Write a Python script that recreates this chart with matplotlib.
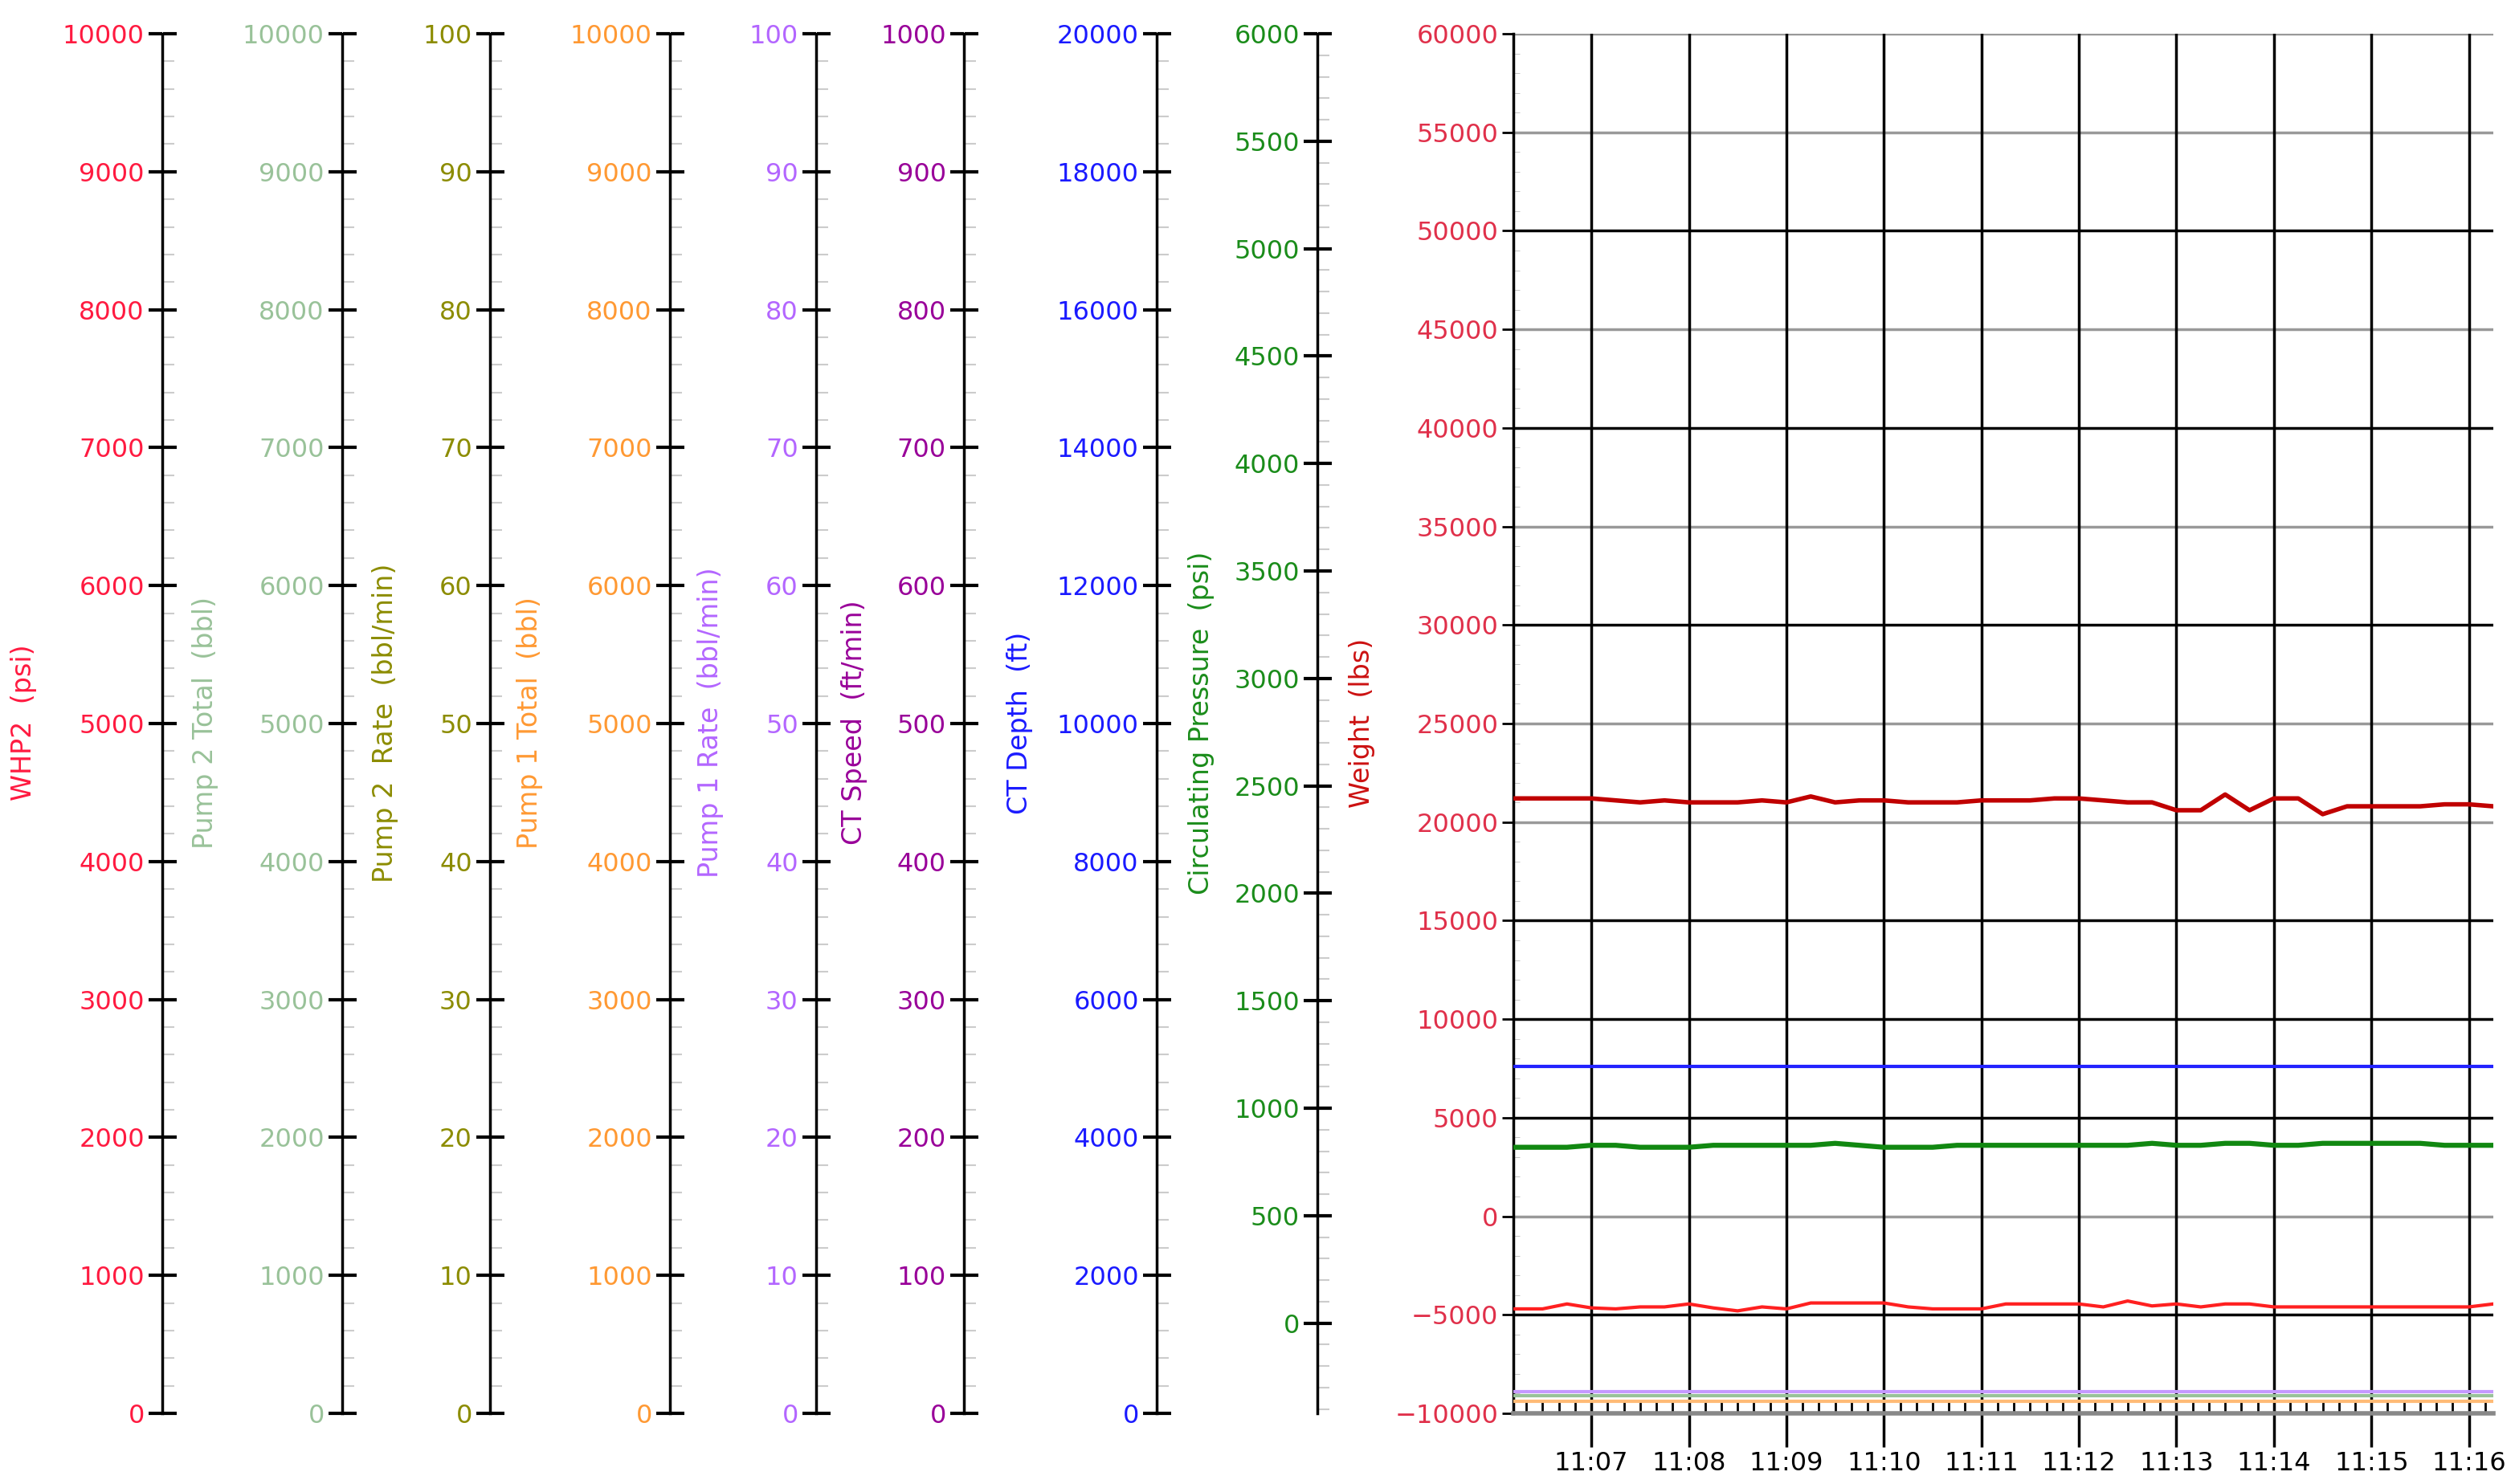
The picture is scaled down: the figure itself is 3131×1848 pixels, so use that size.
import matplotlib
matplotlib.use("Agg")
import matplotlib.pyplot as plt
from matplotlib.ticker import MultipleLocator, FixedLocator
import numpy as np

# ---- data ----
axis_names = ["WHP2  (psi)", "Pump 2 Total  (bbl)", "Pump 2  Rate  (bbl/min)", "Pump 1 Total  (bbl)",
              "Pump 1 Rate  (bbl/min)", "CT Speed  (ft/min)", "CT Depth  (ft)", "Circulating Pressure  (psi)"]
axis_colors = ["#ff1a40", "#99c299", "#8c8c00", "#ff9933", "#b366ff", "#990099", "#1a1aff", "#1a8c1a"]
axis_max = [10000, 10000, 100, 10000, 100, 1000, 20000, 6000]
axis_min = [0, 0, 0, 0, 0, 0, 0, -420]
axis_step = [1000, 1000, 10, 1000, 10, 100, 2000, 500]

minutes = ["11:07", "11:08", "11:09", "11:10", "11:11", "11:12", "11:13", "11:14", "11:15", "11:16"]
t = [6.2, 6.5, 6.75, 7.0, 7.25, 7.5, 7.75, 8.0, 8.25, 8.5, 8.75, 9.0, 9.25, 9.5, 9.75, 10.0,
     10.25, 10.5, 10.75, 11.0, 11.25, 11.5, 11.75, 12.0, 12.25, 12.5, 12.75, 13.0, 13.25,
     13.5, 13.75, 14.0, 14.25, 14.5, 14.75, 15.0, 15.25, 15.5, 15.75, 16.0, 16.25]
weight = [21200, 21200, 21200, 21200, 21100, 21000, 21100, 21000, 21000, 21000, 21100, 21000, 21300,
          21000, 21100, 21100, 21000, 21000, 21000, 21100, 21100, 21100, 21200, 21200, 21100,
          21000, 21000, 20600, 20600, 21400, 20600, 21200, 21200, 20400, 20800, 20800, 20800,
          20800, 20900, 20900, 20800]
whp2 = [-4700, -4700, -4450, -4650, -4700, -4600, -4600, -4450, -4650, -4800, -4600, -4700, -4400,
        -4400, -4400, -4400, -4600, -4700, -4700, -4700, -4450, -4450, -4450, -4450, -4600,
        -4300, -4550, -4450, -4600, -4450, -4450, -4600, -4600, -4600, -4600, -4600, -4600,
        -4600, -4600, -4600, -4450]
circ = [3500, 3500, 3500, 3600, 3600, 3500, 3500, 3500, 3600, 3600, 3600, 3600, 3600, 3700, 3600, 3500,
        3500, 3500, 3600, 3600, 3600, 3600, 3600, 3600, 3600, 3600, 3700, 3600, 3600, 3700,
        3700, 3600, 3600, 3700, 3700, 3700, 3700, 3700, 3600, 3600, 3600]
ct_depth = [7600] * len(t)
pump1_rate = [-8900] * len(t)
pump2_total = [-9100] * len(t)
pump1_total = [-9400] * len(t)

W, H = 3131, 1848
fig = plt.figure(figsize=(W / 100, H / 100), dpi=100)
bot, top = 1 - 1760 / H, 1 - 42 / H
spine_x = [202, 426, 610, 834, 1016, 1200, 1440, 1640]
label_x = [30, 256, 480, 660, 884, 1064, 1270, 1496]
fs = 23

for i in range(8):
    ax = fig.add_axes([spine_x[i] / W, bot, 0.0002, top - bot])
    for s in ["top", "bottom", "right"]:
        ax.spines[s].set_visible(False)
    ax.spines["left"].set_linewidth(2.5)
    ax.set_xticks([])
    ax.set_ylim(axis_min[i], axis_max[i])
    ax.yaxis.set_major_locator(FixedLocator(np.arange(0, axis_max[i] + 1, axis_step[i])))
    ax.yaxis.set_minor_locator(MultipleLocator(axis_step[i] / 5))
    ax.tick_params(which="major", left=True, right=True, direction="out", length=12, width=3,
                   labelsize=fs, labelcolor=axis_colors[i], pad=4)
    ax.tick_params(which="minor", left=False, right=True, direction="out", length=10, width=1.5,
                   color="#cccccc")
    ax.patch.set_visible(False)
    fig.text(label_x[i] / W, 0.513, axis_names[i], rotation=90, color=axis_colors[i],
             fontsize=24, ha="center", va="center")

fig.text(1696 / W, 0.513, "Weight  (lbs)", rotation=90, color="#cc1111", fontsize=24,
         ha="center", va="center")

ax = fig.add_axes([1884 / W, bot, (3104 - 1884) / W, top - bot])
ax.set_ylim(-10000, 60000)
ax.set_xlim(6.2, 16.25)
ax.set_yticks(np.arange(-10000, 60001, 5000))
ax.yaxis.set_minor_locator(MultipleLocator(1000))
ax.tick_params(axis="y", which="major", labelsize=fs, labelcolor="#e0304a", length=10, width=2)
ax.tick_params(axis="y", which="minor", direction="in", length=6, color="#bbbbbb")
ax.set_xticks(np.arange(7, 17), labels=minutes)
ax.xaxis.set_minor_locator(MultipleLocator(1 / 6))
ax.tick_params(axis="x", which="major", labelsize=fs, length=30, width=2.5, direction="out")
ax.tick_params(axis="x", which="minor", direction="in", length=12, width=2)
for y in range(-5000, 60001, 5000):
    black = y in (-5000, 5000, 10000, 15000, 30000, 40000, 50000)
    ax.axhline(y, color="black" if black else "#999999", lw=2.5, zorder=1)
for x in range(7, 17):
    ax.axvline(x, color="black", lw=2.5, zorder=1)
for s in ["top", "right"]:
    ax.spines[s].set_visible(False)
ax.spines["left"].set_linewidth(2.5)
ax.spines["bottom"].set_color("#888888")
ax.spines["bottom"].set_linewidth(4)

ax.plot(t, weight, color="#c00000", lw=4, zorder=3)
ax.plot(t, whp2, color="#ff2020", lw=3, zorder=3)
ax.plot(t, circ, color="#118811", lw=4.5, zorder=3)
ax.plot(t, ct_depth, color="#2222ff", lw=3, zorder=3)
ax.plot(t, pump1_rate, color="#c599ff", lw=3, zorder=3)
ax.plot(t, pump2_total, color="#99c299", lw=3, zorder=3)
ax.plot(t, pump1_total, color="#ffbb77", lw=3, zorder=3)

fig.savefig("out.png", dpi=100)
